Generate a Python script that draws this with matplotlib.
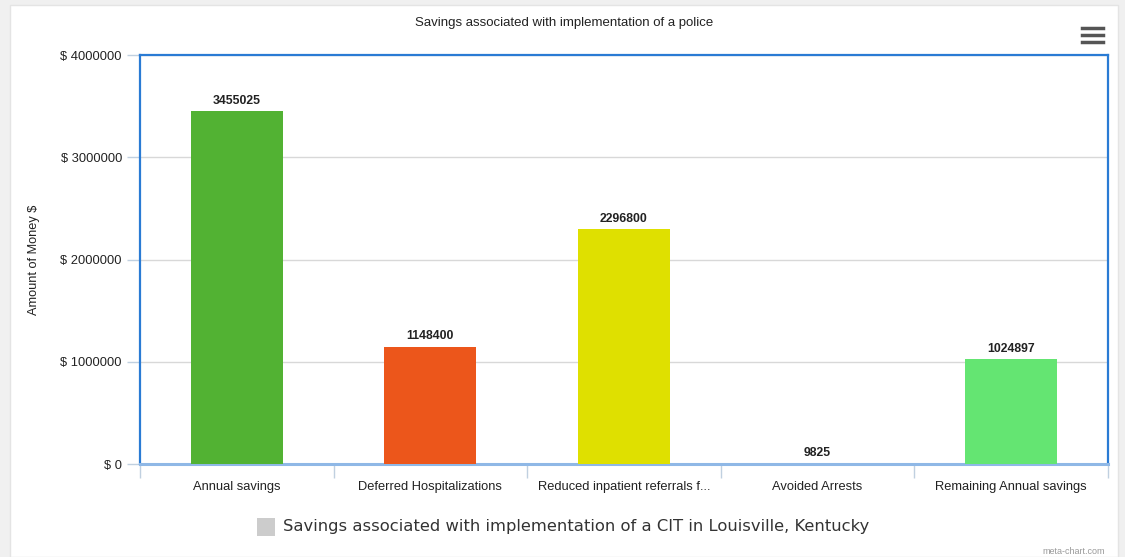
import matplotlib.pyplot as plt
import matplotlib.patches as patches
import numpy as np

# dados
categorias = ["Annual savings", "Deferred Hospitalizations", "Reduced inpatient referrals f...",
              "Avoided Arrests", "Remaining Annual savings"]
valores = [3455025, 1148400, 2296800, 9825, 1024897]
cores = ["#52b233", "#ec561b", "#dfe000", "#8fb8e6", "#64e572"]
ticks_y = [0, 1000000, 2000000, 3000000, 4000000]

plt.rcParams["font.family"] = ["Liberation Sans", "DejaVu Sans"]

fig = plt.figure(figsize=(11.25, 5.57), dpi=100, facecolor="#f0f0f0")
# cartao branco
fig.patches.append(patches.Rectangle((10 / 1125, 0), 1108 / 1125, 552 / 557,
                                     transform=fig.transFigure, facecolor="white",
                                     edgecolor="#e4e4e4", linewidth=1, zorder=-1))

ax = fig.add_axes([140 / 1125, 1 - 464 / 557, 968 / 1125, 409 / 557])
x = np.arange(len(categorias))
ax.bar(x, valores, width=0.475, color=cores, zorder=3)

for xi, v in zip(x, valores):
    ax.text(xi, v + 40000, str(v), ha="center", va="bottom", fontsize=8.8,
            fontweight="bold", color="#222222", zorder=4)

ax.set_xlim(-0.5, len(categorias) - 0.5)
ax.set_ylim(0, 4000000)
ax.set_yticks(ticks_y)
ax.set_yticklabels(["$ " + str(t) for t in ticks_y])
ax.yaxis.grid(True, color="#d8d8d8", linewidth=1, zorder=0)

ax.set_xticks(x)
ax.set_xticklabels(categorias)
ax.set_xticks(np.arange(-0.5, len(categorias)), minor=True)
ax.tick_params(axis="x", which="major", length=0, pad=12, labelsize=9.3, labelcolor="#222222")
ax.tick_params(axis="x", which="minor", length=10, width=1, color="#c0d0e0")
ax.tick_params(axis="y", length=9.5, width=1, color="#c0d0e0", pad=3.5, labelsize=9.3,
               labelcolor="#222222")

for lado in ["top", "left", "right"]:
    ax.spines[lado].set_color("#2a7bd4")
    ax.spines[lado].set_linewidth(1.6)
ax.spines["bottom"].set_color("#8fb8e6")
ax.spines["bottom"].set_linewidth(2.2)

ax.set_ylabel("Amount of Money $", fontsize=9.2, color="#222222")
ax.yaxis.set_label_coords((40 - 140) / 968, 0.5)
fig.text(564 / 1125, 1 - 23 / 557, "Savings associated with implementation of a police",
         ha="center", va="center", fontsize=9.5, color="#222222")

# legenda
fig.patches.append(patches.Rectangle((257 / 1125, 1 - 536 / 557), 18 / 1125, 18 / 557,
                                     transform=fig.transFigure, facecolor="#cccccc",
                                     edgecolor="none"))
fig.text(283 / 1125, 1 - 527 / 557,
         "Savings associated with implementation of a CIT in Louisville, Kentucky",
         ha="left", va="center", fontsize=11.8, color="#333333", family="DejaVu Sans")

# icone de menu
for yy in [28, 35, 42]:
    fig.add_artist(plt.Line2D([1082 / 1125, 1103 / 1125], [1 - yy / 557, 1 - yy / 557],
                              transform=fig.transFigure, color="#555555", linewidth=2.5))

fig.text(1105 / 1125, 1 - 551 / 557, "meta-chart.com", ha="right", va="center",
         fontsize=6.5, color="#999999")

fig.savefig("out.png", dpi=100, facecolor=fig.get_facecolor())
